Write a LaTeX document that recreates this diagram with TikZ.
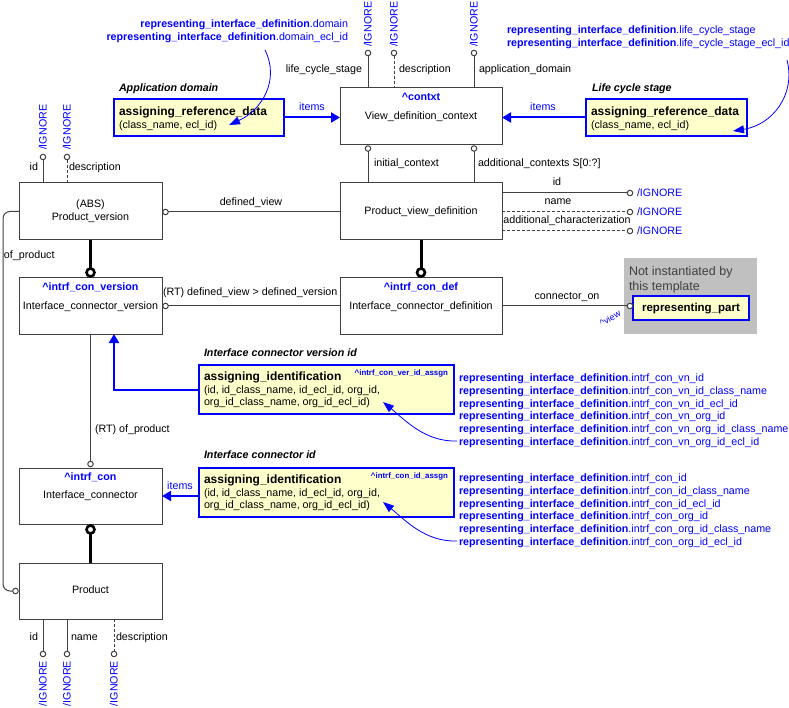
\documentclass[tikz,border=0pt]{standalone}
\usepackage{fontspec}
\setmainfont{Liberation Sans}
\usetikzlibrary{arrows.meta,calc}
\definecolor{lc}{RGB}{64,64,64}
\definecolor{bl}{RGB}{0,0,255}
\definecolor{yf}{RGB}{255,255,204}
\definecolor{gf}{RGB}{192,192,192}
\newcommand\rid[1]{\textbf{representing\_interface\_definition}.#1}
\newcommand\fs[1]{\fontsize{#1}{#1}\selectfont}
\begin{document}
\begin{tikzpicture}[x=1pt,y=-1pt,
  every node/.style={inner sep=0pt,outer sep=0pt,font=\fs{10.7},text height=8.5pt,text depth=1.5pt},
  ent/.style={draw=lc,fill=white,line width=1pt,anchor=north west},
  ybox/.style={draw=bl,fill=yf,line width=2pt,anchor=north west},
  gbox/.style={fill=gf,anchor=north west},
  ln/.style={draw=lc,line width=1pt},
  dln/.style={draw=lc,line width=1pt,dash pattern=on 3pt off 2pt},
  thk/.style={draw=black,line width=3pt},
  oc/.style={circle,draw=lc,fill=white,line width=1pt,minimum size=5.5pt,text height=0pt,text depth=0pt},
  bc/.style={circle,draw=black,fill=white,line width=2.6pt,minimum size=8pt,text height=0pt,text depth=0pt},
  bbl/.style={text=bl,font=\fs{10.7}\bfseries},
  ign/.style={text=bl},
  hdr/.style={font=\fs{10.7}\bfseries\itshape},
  yhd/.style={font=\fs{12}\bfseries},
  barrow/.style={draw=bl,line width=2pt,-{Triangle[length=9pt,width=10pt]}},
  carrow/.style={draw=bl,line width=0.8pt,-{Triangle[length=11pt,width=8pt]}}
]
\useasboundingbox (0,0) rectangle (789,708);

% ---- boxes
\node[gbox,minimum width=133pt,minimum height=76pt] (grey) at (624,258) {};
\node[ent,minimum width=162pt,minimum height=57pt] (vdc) at (340,88) {};
\node[ent,minimum width=143pt,minimum height=57pt] (pv) at (19,183) {};
\node[ent,minimum width=162pt,minimum height=57pt] (pvd) at (340,183) {};
\node[ent,minimum width=143pt,minimum height=56pt] (icv) at (19,278) {};
\node[ent,minimum width=162pt,minimum height=56pt] (icd) at (340,278) {};
\node[ent,minimum width=143pt,minimum height=56pt] (ic) at (19,468) {};
\node[ent,minimum width=143pt,minimum height=56pt] (prod) at (19,563) {};
\node[ybox,minimum width=170pt,minimum height=37pt] (ard1) at (114,99) {};
\node[ybox,minimum width=161pt,minimum height=37pt] (ard2) at (586,99) {};
\node[ybox,minimum width=255pt,minimum height=49pt] (ai1) at (199,365) {};
\node[ybox,minimum width=255pt,minimum height=49pt] (ai2) at (199,468) {};
\node[ybox,minimum width=116pt,minimum height=24pt] (rp) at (633,296) {};

% ---- box texts
\node[bbl] (vdck) at (421,97) {\textasciicircum contxt};
\node (vdcn) at (421,116) {View\_definition\_context};
\node (pva) at (90.5,204) {(ABS)};
\node (pvn) at (90.5,217) {Product\_version};
\node (pvdn) at (421,211) {Product\_view\_definition};
\node[bbl] (icvk) at (90.5,287) {\textasciicircum intrf\_con\_version};
\node (icvn) at (90.5,306) {Interface\_connector\_version};
\node[bbl] (icdk) at (421,287) {\textasciicircum intrf\_con\_def};
\node (icdn) at (421,306) {Interface\_connector\_definition};
\node[bbl] (ick) at (90.5,477) {\textasciicircum intrf\_con};
\node (icn) at (90.5,495) {Interface\_connector};
\node (prodn) at (90.5,590) {Product};

\node[yhd,anchor=west] (ard1h) at (119,112) {assigning\_reference\_data};
\node[anchor=west] (ard1a) at (119,125) {(class\_name, ecl\_id)};
\node[yhd,anchor=west] (ard2h) at (591,112) {assigning\_reference\_data};
\node[anchor=west] (ard2a) at (591,125) {(class\_name, ecl\_id)};
\node[yhd,anchor=west] (ai1h) at (204,377) {assigning\_identification};
\node[anchor=west] (ai1a) at (204,389.5) {(id, id\_class\_name, id\_ecl\_id, org\_id,};
\node[anchor=west] (ai1b) at (204,402) {org\_id\_class\_name, org\_id\_ecl\_id)};
\node[text=bl,font=\fs{7.9}\bfseries,anchor=east] (ai1k) at (448,372) {\textasciicircum intrf\_con\_ver\_id\_assgn};
\node[yhd,anchor=west] (ai2h) at (204,480) {assigning\_identification};
\node[anchor=west] (ai2a) at (204,492.5) {(id, id\_class\_name, id\_ecl\_id, org\_id,};
\node[anchor=west] (ai2b) at (204,505) {org\_id\_class\_name, org\_id\_ecl\_id)};
\node[text=bl,font=\fs{7.9}\bfseries,anchor=east] (ai2k) at (448,475) {\textasciicircum intrf\_con\_id\_assgn};

\node[hdr,anchor=west] (t1) at (119,88) {Application domain};
\node[hdr,anchor=west] (t2) at (592,88) {Life cycle stage};
\node[hdr,anchor=west] (t3) at (204,353) {Interface connector version id};
\node[hdr,anchor=west] (t4) at (204,455) {Interface connector id};

\node[anchor=west,font=\fs{12.5},text=lc] (g1) at (629,272) {Not instantiated by};
\node[anchor=west,font=\fs{12.5},text=lc] (g2) at (629,287) {this template};
\node[font=\fs{11.5}\bfseries] (rpn) at (691,308) {representing\_part};

% ---- attribute circles and lines
\node[oc] (a1) at (368,53) {};
\node[oc] (a2) at (394,53) {};
\node[oc] (a3) at (474,53) {};
\draw[ln] (a1) -- (a1 |- vdc.north);
\draw[dln] (a2) -- (a2 |- vdc.north);
\draw[ln] (a3) -- (a3 |- vdc.north);

\node[oc] (a4) at (368,148.5) {};
\node[oc] (a5) at (474,148.5) {};
\draw[ln] (a4) -- (a4 |- pvd.north);
\draw[ln] (a5) -- (a5 |- pvd.north);

\node[oc] (a6) at (630,193) {};
\node[oc] (a7) at (630,212) {};
\node[oc] (a8) at (630,231) {};
\draw[ln] (a6 -| pvd.east) -- (a6);
\draw[dln] (a7 -| pvd.east) -- (a7);
\draw[dln] (a8 -| pvd.east) -- (a8);

\node[oc] (a9) at (43,157) {};
\node[oc] (a10) at (67,157) {};
\draw[ln] (a9) -- (a9 |- pv.north);
\draw[dln] (a10) -- (a10 |- pv.north);

\node[oc] (a11) at (43,654) {};
\node[oc] (a12) at (67,654) {};
\node[oc] (a13) at (114,654) {};
\draw[ln] (a11 |- prod.south) -- (a11);
\draw[ln] (a12 |- prod.south) -- (a12);
\draw[dln] (a13 |- prod.south) -- (a13);

\node[oc] (a14) at (165.5,212) {};
\draw[ln] (a14) -- (a14 -| pvd.west);
\node[oc] (a15) at (165.5,306) {};
\draw[ln] (a15) -- (a15 -| icd.west);
\node[oc] (a16) at (630,306) {};
\draw[ln] (a16 -| icd.east) -- (a16);
\node[oc] (a17) at (90.5,464) {};
\draw[ln] (icv.south) -- (a17);

\node[bc] (b1) at (90.5,272.5) {};
\draw[thk] (pv.south) -- (b1);
\node[bc] (b2) at (421,272.5) {};
\draw[thk] (pvd.south) -- (b2);
\node[bc] (b3) at (90.5,529.5) {};
\draw[thk] (prod.north) -- (b3);

\node[oc] (a18) at (15.5,591) {};
\draw[ln,rounded corners=7pt] (pv.west) -- ++(-16,0) |- (a18);

% ---- blue arrows
\draw[barrow] (ard1.east) -- (ard1.east -| vdc.west);
\draw[barrow] (ard2.west) -- (ard2.west -| vdc.east);
\draw[barrow] (ai1.west) -| ($(icv.south west)+(95,0)$);
\draw[barrow] (ai2.west |- ic.east) -- (ic.east);

\coordinate (s1) at (265,50); \coordinate (e1) at (229,125);
\draw[carrow] (s1) .. controls (280,80) and (262,110) .. (e1);
\coordinate (s2) at (787,60); \coordinate (e2) at (733,131);
\draw[carrow] (s2) .. controls (796,95) and (772,125) .. (e2);
\coordinate (s3) at (457,441); \coordinate (e3) at (383,402);
\draw[carrow] (s3) .. controls (425,442) and (405,420) .. (e3);
\coordinate (s4) at (457,541); \coordinate (e4) at (383,502);
\draw[carrow] (s4) .. controls (425,542) and (405,520) .. (e4);

% ---- connector labels
\node[anchor=east] (l1) at (362,69) {life\_cycle\_stage};
\node[anchor=west] (l2) at (399,69) {description};
\node[anchor=west] (l3) at (479,69) {application\_domain};
\node[anchor=west] (l4) at (374,163) {initial\_context};
\node[anchor=west] (l5) at (478,163) {additional\_contexts S[0:?]};
\node (l6) at (557,182) {id};
\node (l7) at (558,201) {name};
\node (l8) at (567,220) {additional\_characterization};
\node (l9) at (251,202) {defined\_view};
\node[anchor=west] (l10) at (163,292) {(RT) defined\_view > defined\_version};
\node (l11) at (567,296) {connector\_on};
\node[text=bl,rotate=30,font=\fs{9}] (l12) at (610,318) {\textasciicircum view};
\node[anchor=east] (l13) at (38,167) {id};
\node[anchor=west] (l14) at (69,167) {description};
\node[anchor=west] (l15) at (4,255) {of\_product};
\node[anchor=west] (l16) at (95,429) {(RT) of\_product};
\node[anchor=east] (l17) at (38,637) {id};
\node[anchor=west] (l18) at (71,637) {name};
\node[anchor=west] (l19) at (116,637) {description};
\node[text=bl] (l20) at (312,107) {items};
\node[text=bl] (l21) at (543,107) {items};
\node[text=bl] (l22) at (180,486) {items};

% ---- /IGNORE
\node[ign,rotate=90,anchor=west] (i1) at (368,47) {/IGNORE};
\node[ign,rotate=90,anchor=west] (i2) at (394,47) {/IGNORE};
\node[ign,rotate=90,anchor=west] (i3) at (474,47) {/IGNORE};
\node[ign,rotate=90,anchor=west] (i4) at (43,150) {/IGNORE};
\node[ign,rotate=90,anchor=west] (i5) at (67,150) {/IGNORE};
\node[ign,rotate=90,anchor=east] (i6) at (43,661) {/IGNORE};
\node[ign,rotate=90,anchor=east] (i7) at (67,661) {/IGNORE};
\node[ign,rotate=90,anchor=east] (i8) at (114,661) {/IGNORE};
\node[ign,anchor=west] (i9) at (637,193) {/IGNORE};
\node[ign,anchor=west] (i10) at (637,212) {/IGNORE};
\node[ign,anchor=west] (i11) at (637,231) {/IGNORE};

% ---- blue text lists
\node[anchor=east,text=bl] (d1) at (348,24) {\rid{domain}};
\node[anchor=east,text=bl] (d2) at (348,37) {\rid{domain\_ecl\_id}};
\node[anchor=west,text=bl] (d3) at (507,30) {\rid{life\_cycle\_stage}};
\node[anchor=west,text=bl] (d4) at (507,43) {\rid{life\_cycle\_stage\_ecl\_id}};
\foreach \t [count=\i] in {intrf\_con\_vn\_id, intrf\_con\_vn\_id\_class\_name, intrf\_con\_vn\_id\_ecl\_id, intrf\_con\_vn\_org\_id, intrf\_con\_vn\_org\_id\_class\_name, intrf\_con\_vn\_org\_id\_ecl\_id}
  \node[anchor=west,text=bl] (va\i) at (459,{378+12.8*(\i-1)}) {\rid{\t}};
\foreach \t [count=\i] in {intrf\_con\_id, intrf\_con\_id\_class\_name, intrf\_con\_id\_ecl\_id, intrf\_con\_org\_id, intrf\_con\_org\_id\_class\_name, intrf\_con\_org\_id\_ecl\_id}
  \node[anchor=west,text=bl] (vb\i) at (459,{478+12.8*(\i-1)}) {\rid{\t}};
\end{tikzpicture}
\end{document}
